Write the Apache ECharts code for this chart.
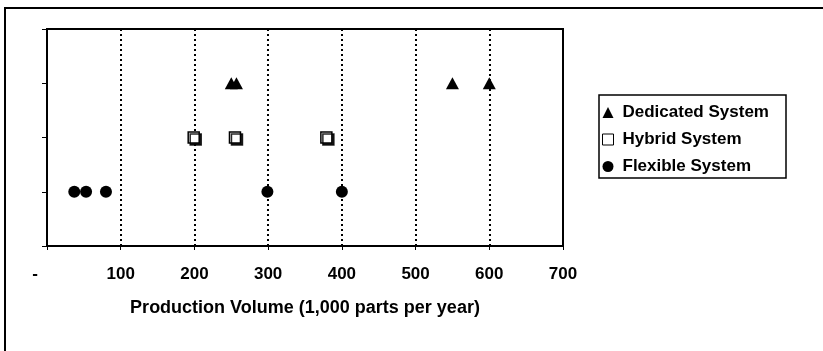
<!DOCTYPE html>
<html><head><meta charset="utf-8">
<script src="https://cdn.jsdelivr.net/npm/echarts@6/dist/echarts.min.js"></script>
<style>html,body{margin:0;padding:0;background:#fff}#c{width:823px;height:351px}</style>
</head><body><div id="c"></div>
<script>
const seriesNames = ['Dedicated System', 'Hybrid System', 'Flexible System'];
const dedicatedX = [250, 257, 550, 600];
const dedicatedY = [3, 3, 3, 3];
const hybridX = [199, 255, 379];
const hybridY = [2, 2, 2];
const flexibleX = [37, 53, 80, 299, 400];
const flexibleY = [1, 1, 1, 1, 1];
const xTicks = [0, 100, 200, 300, 400, 500, 600, 700];
const xAxisTitle = 'Production Volume (1,000 parts per year)';

const FONT = '"Liberation Sans", Arial, sans-serif';
const zip = (xs, ys) => xs.map((x, i) => [x, ys[i]]);

const chart = echarts.init(document.getElementById('c'), null, {renderer: 'canvas'});
chart.setOption({
  animation: false,
  backgroundColor: '#fff',
  graphic: [
    {type: 'rect', shape: {x: 5, y: 8, width: 900, height: 400}, style: {fill: 'none', stroke: '#000', lineWidth: 2}, z: 0},
    {type: 'rect', shape: {x: 599, y: 95, width: 187, height: 83}, style: {fill: '#fff', stroke: '#000', lineWidth: 1.5}, z: 1}
  ],
  grid: {left: 47, right: 260, top: 29, bottom: 105, show: true, borderColor: '#000', borderWidth: 2, backgroundColor: 'transparent'},
  legend: {
    orient: 'vertical', left: 602, top: 104, itemGap: 10, itemWidth: 11, itemHeight: 11,
    padding: 0, z: 5,
    textStyle: {fontFamily: FONT, fontWeight: 'bold', fontSize: 17, color: '#000', lineHeight: 17, padding: [0, 0, 0, 4]},
    data: [
      {name: seriesNames[0], icon: 'triangle', itemStyle: {color: '#000', borderWidth: 0, shadowColor: 'transparent'}},
      {name: seriesNames[1], icon: 'rect', itemStyle: {color: '#fff', borderColor: '#000', borderWidth: 1, shadowColor: 'transparent', shadowOffsetX: 0, shadowOffsetY: 0}},
      {name: seriesNames[2], icon: 'circle', itemStyle: {color: '#000', borderWidth: 0, shadowColor: 'transparent'}}
    ]
  },
  xAxis: {
    type: 'value', min: xTicks[0], max: xTicks[xTicks.length - 1], interval: 100,
    name: xAxisTitle, nameLocation: 'middle', nameGap: 53,
    nameTextStyle: {fontFamily: FONT, fontWeight: 'bold', fontSize: 18, color: '#000'},
    axisLine: {show: true, lineStyle: {color: '#000', width: 2}},
    axisTick: {show: true, length: 4, lineStyle: {color: '#000', width: 1}},
    axisLabel: {
      margin: 20, fontFamily: FONT, fontWeight: 'bold', fontSize: 17, color: '#000',
      formatter: v => v === 0 ? '-     ' : String(v)
    },
    splitLine: {show: true, lineStyle: {color: '#000', width: 2, type: [2, 3]}}
  },
  yAxis: {
    type: 'value', min: 0, max: 4, interval: 1,
    axisLine: {show: true, lineStyle: {color: '#000', width: 2}},
    axisTick: {show: true, length: 5, lineStyle: {color: '#000', width: 1}},
    axisLabel: {show: false},
    splitLine: {show: false}
  },
  series: [
    {name: seriesNames[0], type: 'scatter', symbol: 'triangle', symbolSize: [13, 12], data: zip(dedicatedX, dedicatedY),
     itemStyle: {color: '#000', opacity: 1}, z: 3},
    {name: seriesNames[1], type: 'scatter', symbol: 'rect', symbolSize: 11, data: zip(hybridX, hybridY),
     itemStyle: {color: '#fff', borderColor: '#000', borderWidth: 1.5, opacity: 1, shadowColor: 'rgba(0,0,0,0.85)', shadowBlur: 0, shadowOffsetX: 2, shadowOffsetY: 2}, z: 3},
    {name: seriesNames[2], type: 'scatter', symbol: 'circle', symbolSize: 12, data: zip(flexibleX, flexibleY),
     itemStyle: {color: '#000', opacity: 1}, z: 3}
  ]
});
</script></body></html>
